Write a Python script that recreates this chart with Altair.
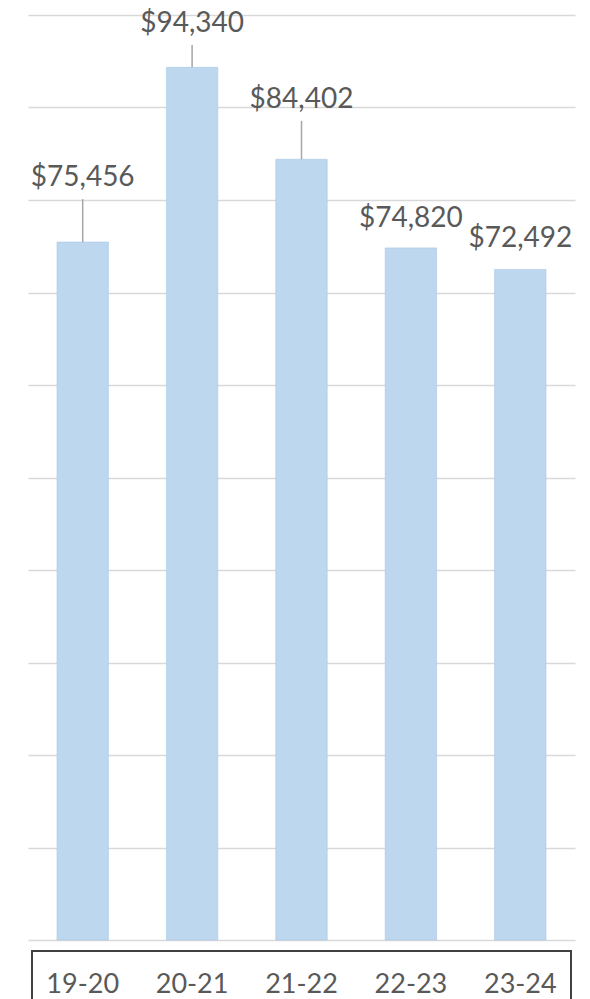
import altair as alt
import pandas as pd

years = ["19-20", "20-21", "21-22", "22-23", "23-24"]
salaries = [75456, 94340, 84402, 74820, 72492]
label_y = [81500, 98150, 89950, 77100, 74900]
has_leader = [True, True, True, False, False]

df = pd.DataFrame({
    "year": years,
    "salary": salaries,
    "label_y": label_y,
    "leader": has_leader,
})

FONT = "Lato"
TEXT_COLOR = "#595959"

x_enc = alt.X(
    "year:N",
    sort=years,
    scale=alt.Scale(paddingInner=0.53, paddingOuter=0.265),
    axis=alt.Axis(
        title=None, labelAngle=0, ticks=False, domain=False,
        labelFontSize=27, labelFont=FONT, labelColor=TEXT_COLOR,
        labelPadding=31, grid=False,
    ),
)
y_scale = alt.Scale(domain=[0, 100000], nice=False)

base = alt.Chart(df)

bars = base.mark_bar(color="#BDD7EE", stroke="#A9C8E6", strokeWidth=0.6).encode(
    x=x_enc,
    y=alt.Y(
        "salary:Q", scale=y_scale,
        axis=alt.Axis(
            title=None, labels=False, ticks=False, domain=False,
            values=list(range(0, 100001, 10000)),
            gridColor="#D9D9D9", gridWidth=1.5,
        ),
    ),
)

leaders = base.transform_filter(alt.datum.leader).transform_calculate(
    ltop="datum.label_y - 1400"
).mark_rule(color="#A6A6A6", strokeWidth=1.5).encode(
    x=alt.X("year:N", sort=years),
    y=alt.Y("salary:Q", scale=y_scale),
    y2="ltop:Q",
)

labels = base.mark_text(
    font=FONT, fontSize=28, color=TEXT_COLOR, baseline="alphabetic", align="center"
).encode(
    x=alt.X("year:N", sort=years),
    y=alt.Y("label_y:Q", scale=y_scale),
    text=alt.Text("salary:Q", format="$,"),
)

box = alt.Chart(alt.Data(values=[{"k": 1}])).mark_rect(
    fillOpacity=0, stroke="#404040", strokeWidth=2
).encode(
    x=alt.value(4), x2=alt.value(543), y=alt.value(936), y2=alt.value(1010)
)

chart = alt.layer(bars, leaders, labels, box).properties(
    width=547, height=925,
    background="white",
    autosize=alt.AutoSizeParams(type="none"),
    padding={"left": 28, "top": 15, "right": 15, "bottom": 59},
).configure_view(stroke=None)

chart.save("out.html", embed_options={"renderer": "svg", "actions": False})
